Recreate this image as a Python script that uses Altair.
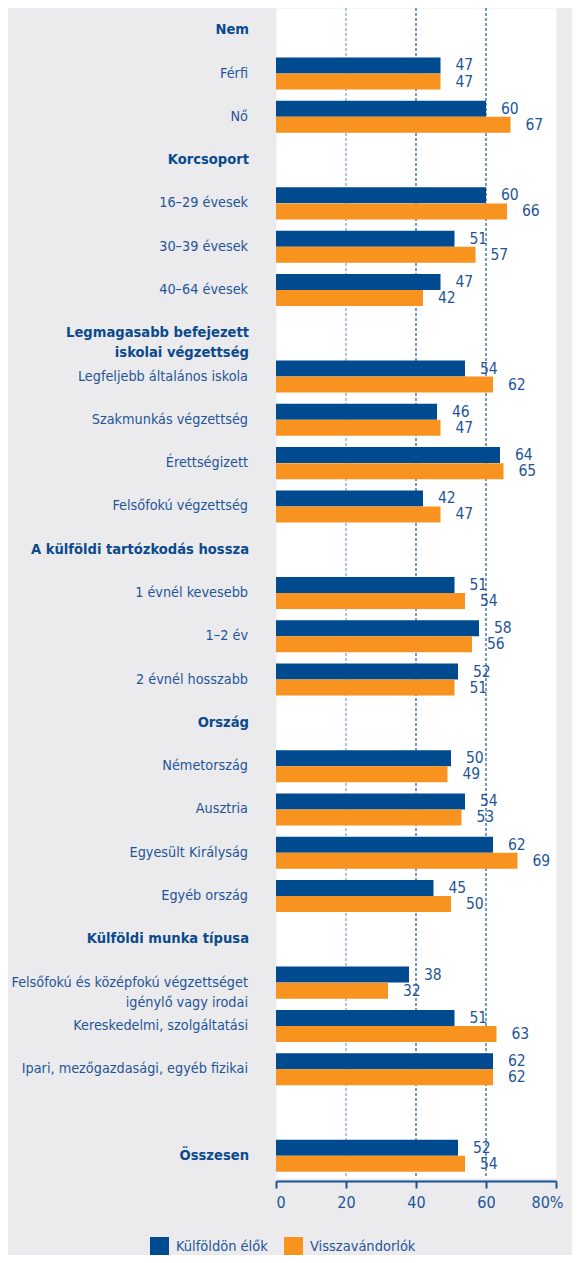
import altair as alt
import pandas as pd

# ---- data -------------------------------------------------------------------
row_labels = [
    "Nem", "Férfi", "Nő",
    "Korcsoport", "16–29 évesek", "30–39 évesek", "40–64 évesek",
    "Legmagasabb befejezett\niskolai végzettség",
    "Legfeljebb általános iskola", "Szakmunkás végzettség", "Érettségizett",
    "Felsőfokú végzettség",
    "A külföldi tartózkodás hossza", "1 évnél kevesebb", "1–2 év", "2 évnél hosszabb",
    "Ország", "Németország", "Ausztria", "Egyesült Királyság", "Egyéb ország",
    "Külföldi munka típusa",
    "Felsőfokú és középfokú végzettséget\nigénylő vagy irodai",
    "Kereskedelmi, szolgáltatási", "Ipari, mezőgazdasági, egyéb fizikai",
    " ",
    "Összesen",
]
row_is_heading = [
    True, False, False,
    True, False, False, False,
    True, False, False, False, False,
    True, False, False, False,
    True, False, False, False, False,
    True, False, False, False,
    False,
    True,
]

bar_rows = [
    "Férfi", "Nő", "16–29 évesek", "30–39 évesek", "40–64 évesek",
    "Legfeljebb általános iskola", "Szakmunkás végzettség", "Érettségizett",
    "Felsőfokú végzettség", "1 évnél kevesebb", "1–2 év", "2 évnél hosszabb",
    "Németország", "Ausztria", "Egyesült Királyság", "Egyéb ország",
    "Felsőfokú és középfokú végzettséget\nigénylő vagy irodai",
    "Kereskedelmi, szolgáltatási", "Ipari, mezőgazdasági, egyéb fizikai",
    "Összesen",
]
series_names = ["Külföldön élők", "Visszavándorlók"]
abroad = [47, 60, 60, 51, 47, 54, 46, 64, 42, 51, 58, 52, 50, 54, 62, 45, 38, 51, 62, 52]
returnees = [47, 67, 66, 57, 42, 62, 47, 65, 47, 54, 56, 51, 49, 53, 69, 50, 32, 63, 62, 54]

x_ticks = [0, 20, 40, 60, 80]
grid_values = [20, 40, 60]

# ---- tables ------------------------------------------------------------------
bars = pd.DataFrame(
    [{"row": r, "series": series_names[0], "value": v} for r, v in zip(bar_rows, abroad)]
    + [{"row": r, "series": series_names[1], "value": v} for r, v in zip(bar_rows, returnees)]
)
labels_df = pd.DataFrame({"row": row_labels, "heading": row_is_heading})
grid_df = pd.DataFrame({"v": grid_values})

FONT = "DejaVu Sans Condensed, sans-serif"
BLUE = "#004a8f"
ORANGE = "#f7931e"
TEXT = "#1f5597"
HEAD = "#0b4a8c"

y_enc = alt.Y(
    "row:N",
    sort=row_labels,
    scale=alt.Scale(domain=row_labels, paddingInner=0.26, paddingOuter=0.143),
    axis=None,
)
y_off = alt.YOffset("series:N", sort=series_names,
                    scale=alt.Scale(domain=series_names, paddingInner=0, paddingOuter=0))
x_scale = alt.Scale(domain=[0, 80], nice=False)

x_axis = alt.Axis(
    values=x_ticks,
    grid=False,
    title=None,
    domainColor="#1a5296",
    domainWidth=2,
    tickColor="#1a5296",
    tickWidth=2,
    tickSize=7,
    offset=3,
    labelFont=FONT,
    labelFontSize=16,
    labelColor=TEXT,
    labelPadding=6,
    labelExpr="datum.value == 80 ? '80%' : datum.label",
    labelOffset={"condition": {"test": "datum.value == 80", "value": 7}, "value": 0},
)

base = alt.Chart(bars)

values_text = base.mark_text(
    align="left", baseline="middle", dx=15, font=FONT, fontSize=15.5, color=TEXT
).encode(
    x=alt.X("value:Q", scale=x_scale, axis=x_axis),
    y=y_enc,
    yOffset=y_off,
    text=alt.Text("value:Q"),
)

grid = alt.Chart(grid_df).mark_rule(strokeDash=[3, 2], strokeWidth=1.2).encode(
    x=alt.X("v:Q", scale=x_scale),
    color=alt.condition(alt.datum.v == 20, alt.value("#7f9fc6"), alt.value("#1a5aa0")),
)

bar_layer = base.mark_bar(size=16).encode(
    x=alt.X("value:Q", scale=x_scale),
    y=y_enc,
    yOffset=y_off,
    color=alt.Color(
        "series:N",
        sort=series_names,
        scale=alt.Scale(domain=series_names, range=[BLUE, ORANGE]),
        legend=alt.Legend(
            title=None,
            orient="none",
            direction="horizontal",
            legendX=-126,
            legendY=1229,
            symbolType="square",
            symbolSize=361,
            symbolStrokeWidth=0,
            symbolOpacity=1,
            labelFont=FONT,
            labelFontSize=14.5,
            labelColor=TEXT,
            labelOffset=7,
            columnPadding=16,
            padding=0,
        ),
    ),
)

item_labels = alt.Chart(labels_df).transform_filter(
    "!datum.heading"
).mark_text(
    align="right", baseline="middle", font=FONT, fontSize=14.3, color=TEXT,
    lineBreak="\n", lineHeight=20,
).encode(
    x=alt.value(-28),
    y=y_enc,
    text="row:N",
)

head_labels = alt.Chart(labels_df).transform_filter(
    "datum.heading"
).mark_text(
    align="right", baseline="middle", font=FONT, fontSize=14.6, fontWeight="bold",
    color=HEAD, lineBreak="\n", lineHeight=20,
).encode(
    x=alt.value(-27),
    y=y_enc,
    text="row:N",
)

chart = alt.layer(values_text, grid, bar_layer, item_labels, head_labels).properties(
    width=280,
    height=1170,
    background="#ebebed",
    autosize=alt.AutoSizeParams(type="none"),
    padding={"left": 268, "top": 0, "right": 16, "bottom": 77},
).configure_view(fill="white", stroke="transparent")

chart.save("out.html", embed_options={"renderer": "svg", "actions": False})
